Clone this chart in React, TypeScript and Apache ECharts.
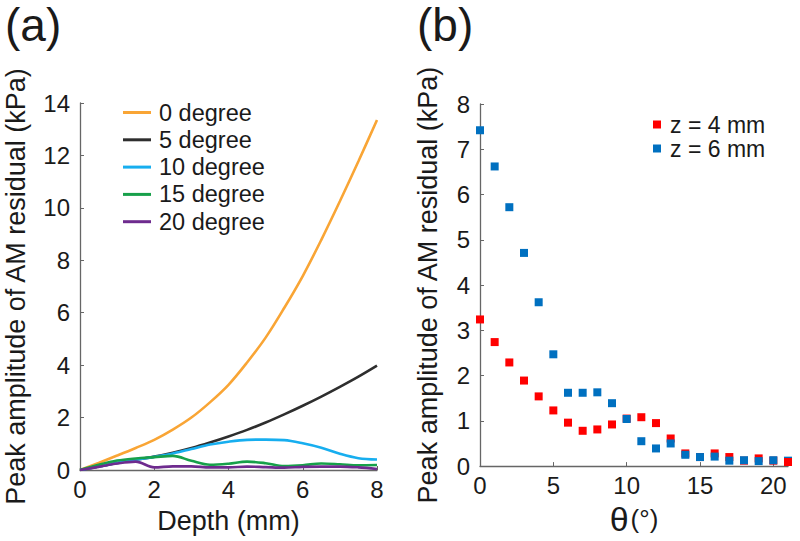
import React, { useEffect, useRef } from "react";
import * as echarts from "echarts";

// ---------- Panel (a) data ----------
const depth = [0, 0.5, 1, 1.5, 2, 2.5, 3, 3.5, 4, 4.5, 5, 5.5, 6, 6.5, 7, 7.5, 8];
const deg0 = [0, 0.27, 0.55, 0.84, 1.15, 1.54, 2.0, 2.58, 3.25, 4.1, 5.05, 6.18, 7.4, 8.78, 10.25, 11.78, 13.35];
const deg5 = [0, 0.13, 0.27, 0.39, 0.51, 0.66, 0.84, 1.05, 1.28, 1.53, 1.81, 2.12, 2.45, 2.8, 3.17, 3.56, 3.98];
const deg10 = [0, 0.13, 0.27, 0.39, 0.5, 0.63, 0.8, 0.97, 1.08, 1.15, 1.16, 1.14, 1.02, 0.85, 0.62, 0.45, 0.4];
const deg15 = [0, 0.2, 0.36, 0.44, 0.49, 0.54, 0.35, 0.2, 0.24, 0.32, 0.26, 0.15, 0.18, 0.25, 0.22, 0.18, 0.19];
const deg20 = [0, 0.12, 0.25, 0.32, 0.1, 0.14, 0.14, 0.1, 0.1, 0.13, 0.11, 0.09, 0.12, 0.13, 0.13, 0.1, 0.04];
const lineNames = ["0 degree", "5 degree", "10 degree", "15 degree", "20 degree"];
const lineColors = ["#F9A535", "#2E2E2E", "#17AEEF", "#17A04A", "#6E2B8E"];

// ---------- Panel (b) data ----------
const theta = [0, 1, 2, 3, 4, 5, 6, 7, 8, 9, 10, 11, 12, 13, 14, 15, 16, 17, 18, 19, 20, 21];
const z4 = [3.24, 2.74, 2.29, 1.89, 1.54, 1.23, 0.96, 0.78, 0.81, 0.92, 1.05, 1.08, 0.95, 0.61, 0.28, 0.2, 0.28, 0.2, 0.12, 0.17, 0.12, 0.09];
const z6 = [7.42, 6.62, 5.72, 4.71, 3.62, 2.47, 1.62, 1.62, 1.63, 1.39, 1.04, 0.55, 0.39, 0.5, 0.25, 0.2, 0.21, 0.12, 0.13, 0.11, 0.13, 0.12];
const scatterNames = ["z = 4 mm", "z = 6 mm"];
const scatterColors = ["#FF0000", "#0070C0"];
const thetaTicks = [0, 5, 10, 15, 20];

const FONT = "Liberation Sans, Arial, sans-serif";
const AXIS_COLOR = "#666666";
const TEXT_COLOR = "#1a1a1a";
const TITLE_SIZE = 27;

export default function App() {
  const ref = useRef<HTMLDivElement>(null);

  useEffect(() => {
    document.body.style.margin = "0";
    if (!ref.current) return;
    const chart = echarts.init(ref.current, null, { renderer: "svg" });

    const pair = (xs: number[], ys: number[]) => xs.map((x, i) => [x, ys[i]]);
    const lineData = [deg0, deg5, deg10, deg15, deg20];

    const axisCommon = {
      axisLine: { show: true, lineStyle: { color: AXIS_COLOR, width: 1.3 } },
      axisTick: { show: true, inside: true, length: 4, lineStyle: { color: AXIS_COLOR, width: 1 } },
      splitLine: { show: false },
    };
    const labelCommon = { color: TEXT_COLOR, fontSize: 24, fontFamily: FONT };
    const titleStyle = { color: TEXT_COLOR, fontSize: TITLE_SIZE, fontFamily: FONT, verticalAlign: "middle" };

    const option: any = {
      animation: false,
      backgroundColor: "#ffffff",
      textStyle: { fontFamily: FONT },
      grid: [
        { left: 80, top: 103, width: 297, height: 367 },
        { left: 480, top: 104, width: 308, height: 366 },
      ],
      xAxis: [
        {
          type: "value",
          gridIndex: 0,
          min: 0,
          max: 8,
          interval: 2,
          ...axisCommon,
          axisLabel: { ...labelCommon, margin: 7 },
          name: "Depth (mm)",
          nameLocation: "middle",
          nameGap: 51,
          nameTextStyle: titleStyle,
        },
        {
          type: "value",
          gridIndex: 1,
          min: 0,
          max: 21,
          ...axisCommon,
          axisTick: { ...axisCommon.axisTick, customValues: thetaTicks },
          axisLabel: { ...labelCommon, margin: 7, customValues: thetaTicks },
          name: "{t|θ}{d|(°)}",
          nameLocation: "middle",
          nameGap: 51,
          nameTextStyle: {
            color: TEXT_COLOR,
            fontFamily: FONT,
            verticalAlign: "middle",
            rich: {
              t: { fontSize: 34, fontFamily: FONT, color: TEXT_COLOR },
              d: { fontSize: 26, fontFamily: FONT, color: TEXT_COLOR, padding: [0, 0, 0, 2] },
            },
          },
        },
      ],
      yAxis: [
        {
          type: "value",
          gridIndex: 0,
          min: 0,
          max: 14,
          interval: 2,
          ...axisCommon,
          axisLabel: { ...labelCommon, margin: 10 },
          name: "Peak amplitude of AM residual (kPa)",
          nameLocation: "middle",
          nameGap: 64,
          nameTextStyle: titleStyle,
        },
        {
          type: "value",
          gridIndex: 1,
          min: 0,
          max: 8,
          interval: 1,
          ...axisCommon,
          axisLabel: { ...labelCommon, margin: 10 },
          name: "Peak amplitude of AM residual (kPa)",
          nameLocation: "middle",
          nameGap: 52,
          nameTextStyle: titleStyle,
        },
      ],
      legend: [
        {
          data: lineNames.map((n) => ({ name: n, icon: "rect" })),
          orient: "vertical",
          left: 123,
          top: 99,
          itemWidth: 28,
          itemHeight: 3,
          itemGap: 0.3,
          padding: 0,
          textStyle: { color: TEXT_COLOR, fontSize: 23.5, fontFamily: FONT, lineHeight: 27, padding: [0, 0, 0, 3] },
        },
        {
          data: scatterNames.map((n) => ({ name: n, icon: "rect" })),
          orient: "vertical",
          left: 653,
          top: 113,
          itemWidth: 8,
          itemHeight: 8,
          itemGap: 1,
          padding: 0,
          textStyle: { color: TEXT_COLOR, fontSize: 23, fontFamily: FONT, lineHeight: 23, padding: [0, 0, 0, 4] },
        },
      ],
      graphic: [
        {
          type: "text",
          left: 5,
          top: 2,
          style: { text: "(a)", font: `46px ${FONT}`, fill: TEXT_COLOR },
        },
        {
          type: "text",
          left: 417,
          top: 2,
          style: { text: "(b)", font: `46px ${FONT}`, fill: TEXT_COLOR },
        },
      ],
      series: [
        ...lineNames.map((n, i) => ({
          name: n,
          type: "line",
          xAxisIndex: 0,
          yAxisIndex: 0,
          data: pair(depth, lineData[i]),
          smooth: 0.35,
          showSymbol: false,
          lineStyle: { color: lineColors[i], width: 2.6 },
          itemStyle: { color: lineColors[i] },
          z: 2 + i,
        })),
        {
          name: scatterNames[0],
          type: "scatter",
          xAxisIndex: 1,
          yAxisIndex: 1,
          symbol: "rect",
          symbolSize: 8,
          data: pair(theta.slice(0, 21), z4.slice(0, 21)),
          itemStyle: { color: scatterColors[0], opacity: 1 },
          z: 2,
        },
        {
          name: scatterNames[1],
          type: "scatter",
          xAxisIndex: 1,
          yAxisIndex: 1,
          symbol: "rect",
          symbolSize: 8,
          data: pair(theta, z6),
          itemStyle: { color: scatterColors[1], opacity: 1 },
          z: 3,
        },
        {
          name: "z = 4 mm (last)",
          type: "scatter",
          xAxisIndex: 1,
          yAxisIndex: 1,
          symbol: "rect",
          symbolSize: 8,
          data: pair(theta.slice(21), z4.slice(21)),
          itemStyle: { color: scatterColors[0], opacity: 1 },
          z: 4,
        },
      ],
    };

    chart.setOption(option);
    return () => chart.dispose();
  }, []);

  return <div ref={ref} style={{ width: 800, height: 541 }} />;
}
